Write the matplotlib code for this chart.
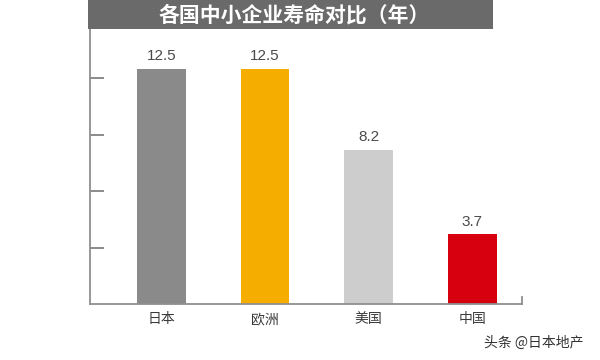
import matplotlib
matplotlib.use("Agg")
import matplotlib.pyplot as plt
from matplotlib.patches import Rectangle

plt.rcParams['font.family'] = ['Noto Sans CJK SC', 'DejaVu Sans']

categories = ['日本', '欧洲', '美国', '中国']
values = [12.5, 12.5, 8.2, 3.7]
value_labels = ['12.5', '12.5', '8.2', '3.7']
colors = ['#8a8a8a', '#f5ae00', '#cdcdcd', '#d7000f']
title = '各国中小企业寿命对比（年）'
watermark = '头条 @日本地产'

fig = plt.figure(figsize=(6, 3.6), dpi=100)
fig.patch.set_facecolor('white')

# title bar
fig.patches.append(Rectangle((88/600, 1 - 29/360), (493-88)/600, 29/360,
                             transform=fig.transFigure, facecolor='#6a6a6a',
                             edgecolor='none', zorder=0))
fig.text(294/600, 1 - 15/360, title, color='white', fontsize=15,
         fontweight='bold', ha='center', va='center')

ax = fig.add_axes([90/600, 56/360, 432/600, 282/360])
x = list(range(len(categories)))
ax.bar(x, values, width=0.47, color=colors, zorder=2)
for xi, v, lab in zip(x, values, value_labels):
    ax.annotate(lab, (xi, v), xytext=(0, 4), textcoords='offset points',
                ha='center', va='bottom', fontsize=11, color='#4a4a4a',
                family=['Liberation Sans', 'DejaVu Sans'])

ax.set_xlim(-0.69, 3.48)
ax.set_ylim(0, 15)
for s in ['top', 'right']:
    ax.spines[s].set_visible(False)
for s in ['left', 'bottom']:
    ax.spines[s].set_color('#8f8f8f')
    ax.spines[s].set_linewidth(1.3)
ax.set_yticks([3, 6, 9, 12])
ax.set_yticklabels([])
ax.tick_params(axis='y', direction='in', length=10, width=1.2, color='#777777')
ax.set_xticks(x)
ax.set_xticklabels(categories, fontsize=10, color='#3a3a3a')
ax.tick_params(axis='x', length=0, pad=6)
# end caps of axes
ax.plot([1, 1], [0, 0.025], transform=ax.transAxes, color='#8f8f8f', lw=1.3, clip_on=False)
ax.plot([0, 0.03], [1, 1], transform=ax.transAxes, color='#8f8f8f', lw=1.3, clip_on=False)

fig.text(583/600, 1 - 343/360, watermark, fontsize=10, color='#333333',
         ha='right', va='center')

fig.savefig('out.png', dpi=100)
